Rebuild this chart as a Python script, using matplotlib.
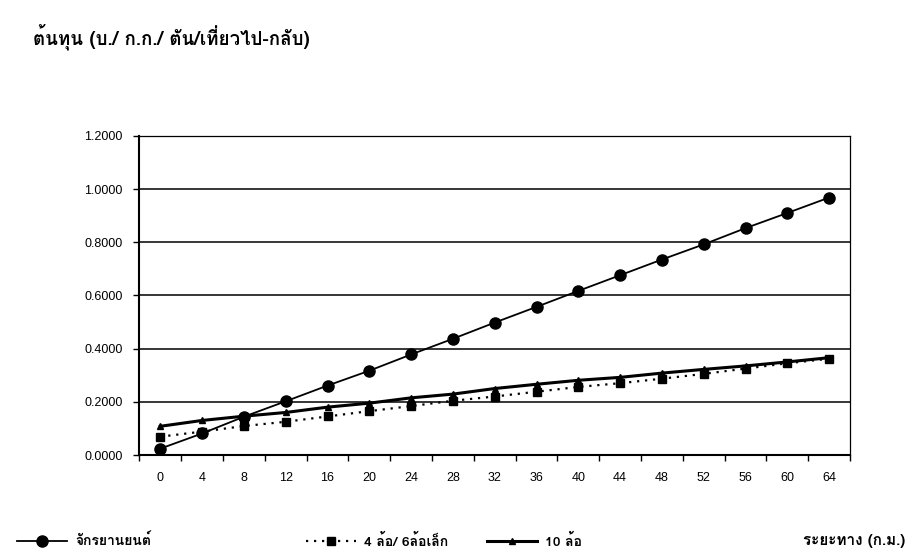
import matplotlib
matplotlib.use('Agg')
import matplotlib.pyplot as plt
from matplotlib import font_manager
from matplotlib.ft2font import FT2Font

# distance (km) categories
distance = [0, 4, 8, 12, 16, 20, 24, 28, 32, 36, 40, 44, 48, 52, 56, 60, 64]

# cost per kg per trip (baht)
motorcycle = [0.024, 0.081, 0.144, 0.202, 0.261, 0.317, 0.378, 0.437, 0.498,
              0.557, 0.617, 0.676, 0.735, 0.792, 0.853, 0.910, 0.968]
small_truck = [0.069, 0.088, 0.109, 0.125, 0.145, 0.165, 0.184, 0.204, 0.220,
               0.238, 0.256, 0.270, 0.287, 0.305, 0.325, 0.345, 0.362]
ten_wheel = [0.108, 0.130, 0.146, 0.160, 0.180, 0.195, 0.215, 0.229, 0.250,
             0.266, 0.281, 0.292, 0.308, 0.322, 0.335, 0.350, 0.366]

series_names = ['จักรยานยนต์', '4 ล้อ/ 6ล้อเล็ก', '10 ล้อ']
title_text = 'ต้นทุน (บ./ ก.ก./ ตัน/เที่ยวไป-กลับ)'
xlabel_text = 'ระยะทาง (ก.ม.)'


def thai_font():
    # first installed font that has Thai glyphs
    for f in font_manager.fontManager.ttflist:
        try:
            if ord('ก') in FT2Font(f.fname).get_charmap():
                return f.name
        except Exception:
            pass
    return 'DejaVu Sans'


thai = thai_font()
num_font = 'Liberation Sans'

fig = plt.figure(figsize=(9.17, 5.59), dpi=100)
ax = fig.add_axes([0.152, 0.186, 0.775, 0.571])

ax.plot(distance, motorcycle, color='black', lw=1.3, marker='o', ms=8,
        label=series_names[0], zorder=4)
ax.plot(distance, small_truck, color='black', lw=1.6, ls=(0, (1, 2.6)),
        marker='s', ms=6, label=series_names[1], zorder=3)
ax.plot(distance, ten_wheel, color='black', lw=2.2, marker='^', ms=5,
        label=series_names[2], zorder=3)

ax.set_xlim(-2, 66)
ax.set_ylim(0, 1.2)
ax.set_yticks([0, 0.2, 0.4, 0.6, 0.8, 1.0, 1.2])
ax.set_yticklabels(['%.4f' % v for v in ax.get_yticks()], fontfamily=num_font, fontsize=9)
ax.set_xticks(distance)
ax.set_xticklabels([str(d) for d in distance], fontfamily=num_font, fontsize=9)
ax.set_xticks([d - 2 for d in distance] + [66], minor=True)
ax.tick_params(axis='x', which='major', length=0, pad=12)
ax.tick_params(axis='x', which='minor', length=4, width=1, direction='out')
ax.tick_params(axis='y', length=4, width=1, direction='out', pad=8)
ax.grid(axis='y', color='black', lw=1.1)
ax.set_axisbelow(True)
for s in ['left', 'bottom']:
    ax.spines[s].set_linewidth(1.5)
for s in ['top', 'right']:
    ax.spines[s].set_linewidth(0.9)

fig.text(0.036, 0.935, title_text, fontfamily=thai, fontsize=13.5, fontweight='bold',
         va='center', ha='left')
fig.text(0.987, 0.032, xlabel_text, fontfamily=thai, fontsize=11, fontweight='bold',
         va='center', ha='right')

handles, labels = ax.get_legend_handles_labels()
legend_x = [0.005, 0.32, 0.517]
for h, lab, lx in zip(handles, labels, legend_x):
    fig.legend([h], [lab], loc='center left', bbox_to_anchor=(lx, 0.032),
               frameon=False, handlelength=3.6, handletextpad=0.6,
               prop={'family': thai, 'size': 10, 'weight': 'bold'})

plt.savefig('out.png', dpi=100)
